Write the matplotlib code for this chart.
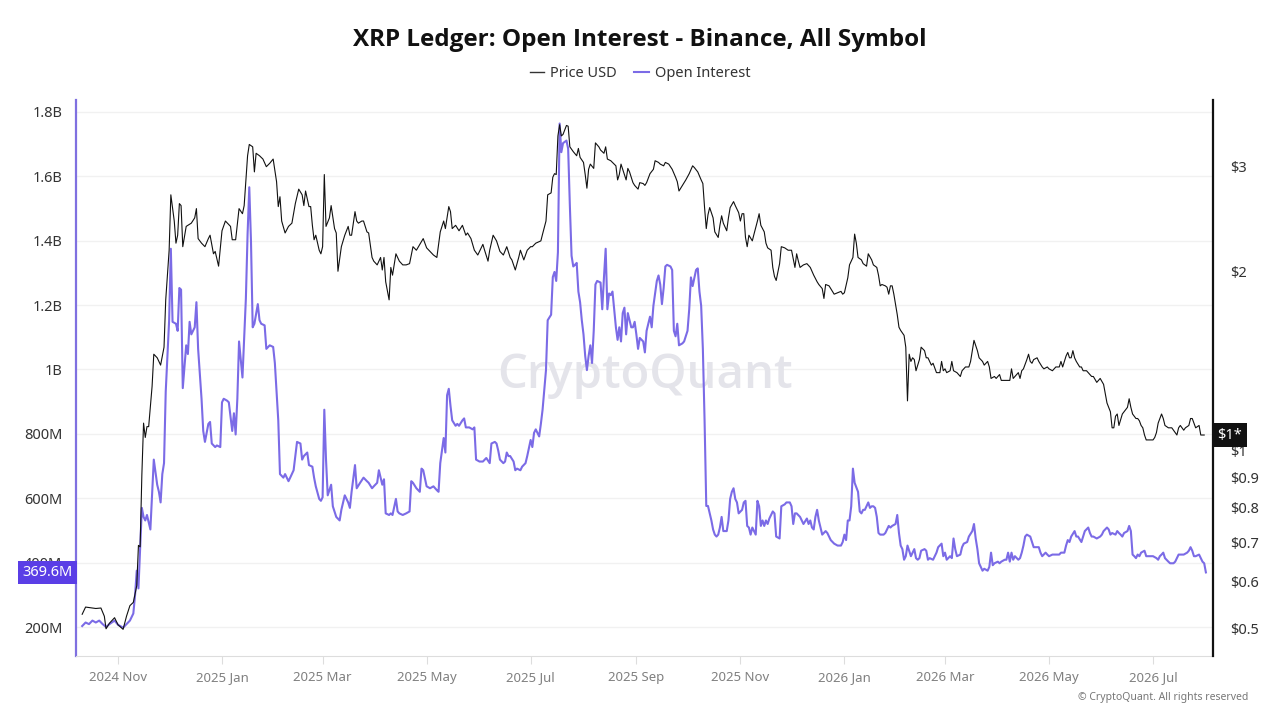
import matplotlib
matplotlib.use('Agg')
import matplotlib.pyplot as plt
import matplotlib.transforms as mtransforms
from matplotlib.lines import Line2D
import pandas as pd

plt.rcParams['font.family'] = ['Noto Sans', 'DejaVu Sans']

# day offsets are counted from 2024-11-01
base_date = '2024-11-01'

price_days = [
    -21, -19, -13, -10, -8, -7, -5, -2, 0, 3, 5, 7, 9, 11, 12, 13, 14, 15, 16, 17, 18, 20, 21, 23, 25,
    27, 28, 30, 31, 33, 34, 35, 36, 37, 38, 40, 41, 43, 45, 46, 47, 49, 51, 53, 54, 56, 57, 59, 61, 63,
    66, 67, 69, 71, 73, 74, 76, 77, 79, 80, 81, 83, 85, 87, 89, 91, 93, 94, 95, 96, 98, 100, 102, 104,
    106, 108, 109, 110, 112, 113, 114, 115, 116, 118, 119, 120, 121, 122, 124, 125, 127, 128, 129, 131,
    133, 135, 136, 137, 139, 140, 141, 143, 144, 146, 147, 149, 150,
    152, 154, 155, 156, 157, 159, 160, 161, 163, 165, 167, 169, 171, 173, 175, 177, 179, 181, 183, 185,
    187, 189, 191, 192, 194, 195, 196, 198, 200, 202, 204, 205, 207, 209, 211, 212, 214, 215, 217, 218,
    220, 222, 224, 226, 228, 230, 231, 233, 235, 236, 238, 240, 242, 243, 245, 248, 249, 251, 252, 254,
    255, 256, 257, 258, 259, 260, 261, 263, 264, 265, 267, 269, 270, 271, 273, 274, 275, 276, 277, 279,
    280, 282, 283, 285, 286, 287, 289, 290, 292, 293, 294, 295, 296, 298, 299, 300, 302, 303, 305, 306,
    308, 309, 310, 312, 314, 315, 317,
    318, 320, 321, 323, 325, 327, 328, 329, 331, 333, 335, 337, 338, 340, 342, 343, 344, 345, 346, 347,
    349, 350, 352, 353, 354, 355, 357, 358, 359, 361, 362, 364, 365, 366, 367, 368, 369, 370, 372, 373,
    375, 376, 377, 379, 380, 381, 383, 384, 385, 386, 388, 389, 391, 393, 395, 397, 398, 399, 400, 402,
    404, 406, 407, 408, 410, 411, 413, 414, 415, 417, 418, 420, 422, 424, 425, 426, 428, 429, 431, 432,
    433, 434, 436, 437, 439, 440, 442, 443, 445, 446, 447, 448, 450, 451, 452, 453, 454, 455, 457, 458,
    459, 461, 462, 463, 464, 465, 466, 467, 468, 470, 471, 473, 474, 475, 477, 478, 480, 482,
    483, 484, 485, 486, 488, 489, 490, 492, 494, 495, 497, 499, 500, 501, 502, 504, 505, 507, 508, 510,
    511, 512, 514, 515, 517, 518, 520, 521, 523, 524, 525, 527, 528, 529, 530, 531, 533, 534, 535, 536,
    537, 539, 540, 542, 543, 545, 546, 548, 550, 551, 552, 553, 554, 556, 557, 558, 559, 560, 561, 562,
    564, 565, 566, 568, 569, 571, 572, 574, 575, 576, 578, 580, 581, 582, 583, 584, 585, 586, 587, 589,
    590, 592, 593, 594, 595, 597, 598, 599, 600, 601, 602, 603, 604, 606, 607, 608, 609, 610, 612, 613,
    614, 616, 617, 618, 619, 621, 622, 623, 625, 626, 628, 629, 630, 631, 632, 634, 635, 636, 637,
]
price_usd = [
    0.529, 0.544, 0.541, 0.542, 0.525, 0.500, 0.511, 0.522, 0.508, 0.499, 0.525, 0.547, 0.554, 0.591,
    0.691, 0.687, 0.908, 1.11, 1.05, 1.095, 1.095, 1.28, 1.45, 1.43, 1.39, 1.49, 1.79, 2.17, 2.69, 2.43,
    2.23, 2.30, 2.60, 2.58, 2.20, 2.38, 2.39, 2.41, 2.46, 2.55, 2.27, 2.23, 2.20, 2.27, 2.30, 2.14, 2.16,
    2.04, 2.34, 2.43, 2.38, 2.26, 2.26, 2.55, 2.50, 2.58, 3.13, 3.27, 3.24, 2.94, 3.16, 3.13, 3.09, 3.00,
    3.04, 3.09, 2.83, 2.57, 2.67, 2.43, 2.32, 2.38, 2.41, 2.60, 2.75, 2.69, 2.58, 2.73, 2.57, 2.57, 2.39,
    2.26, 2.30, 2.17, 2.14, 2.20, 2.91, 2.38, 2.46, 2.58, 2.36, 2.32, 2.00, 2.20, 2.30, 2.38, 2.30, 2.30,
    2.52, 2.43, 2.41, 2.43, 2.43, 2.33, 2.32, 2.11, 2.08,
    2.05, 2.11, 2.01, 2.11, 1.92, 1.79, 2.03, 1.97, 2.14, 2.08, 2.05, 2.05, 2.06, 2.20, 2.17, 2.22, 2.27,
    2.19, 2.16, 2.13, 2.11, 2.33, 2.43, 2.36, 2.57, 2.52, 2.36, 2.39, 2.34, 2.39, 2.30, 2.32, 2.27, 2.17,
    2.13, 2.16, 2.22, 2.17, 2.08, 2.17, 2.30, 2.25, 2.16, 2.13, 2.20, 2.11, 2.09, 2.01, 2.11, 2.17, 2.09,
    2.17, 2.20, 2.20, 2.23, 2.25, 2.31, 2.43, 2.69, 2.71, 2.88, 2.92, 2.91, 3.38, 3.53, 3.38, 3.40, 3.52,
    3.51, 3.24, 3.18, 3.13, 3.22, 3.11, 3.05, 2.91, 2.76, 2.97, 3.03, 2.98, 3.29, 3.24, 3.20, 3.16, 3.24,
    3.09, 3.07, 3.05, 3.01, 2.85, 2.91, 3.03, 2.97, 2.85, 2.98, 2.94, 2.82, 2.79, 2.75, 2.82, 2.81, 2.79,
    2.82, 2.92, 2.97, 3.07, 3.05,
    3.03, 3.01, 3.05, 3.03, 2.97, 2.88, 2.83, 2.73, 2.79, 2.85, 2.92, 3.01, 2.99, 2.94, 2.85, 2.81, 2.56,
    2.36, 2.49, 2.56, 2.46, 2.33, 2.28, 2.39, 2.48, 2.41, 2.34, 2.46, 2.56, 2.62, 2.58, 2.51, 2.43, 2.50,
    2.50, 2.28, 2.20, 2.30, 2.25, 2.31, 2.43, 2.50, 2.39, 2.33, 2.23, 2.19, 2.17, 2.03, 1.96, 1.93, 2.06,
    2.20, 2.19, 2.17, 2.17, 2.03, 2.14, 2.08, 2.03, 2.05, 2.06, 2.03, 2.00, 1.97, 1.92, 1.90, 1.87, 1.80,
    1.90, 1.89, 1.87, 1.83, 1.84, 1.85, 1.83, 1.84, 1.95, 2.05, 2.11, 2.31, 2.23, 2.11, 2.09, 2.06, 2.04,
    2.14, 2.09, 2.05, 2.03, 1.97, 1.89, 1.90, 1.89, 1.88, 1.83, 1.89, 1.89, 1.83, 1.69, 1.61, 1.59, 1.56,
    1.49, 1.21, 1.45, 1.41, 1.43, 1.42, 1.36, 1.42, 1.49, 1.47, 1.43, 1.43, 1.39, 1.40, 1.35, 1.35,
    1.41, 1.36, 1.37, 1.35, 1.36, 1.41, 1.36, 1.35, 1.33, 1.36, 1.38, 1.38, 1.41, 1.47, 1.53, 1.47, 1.43,
    1.41, 1.39, 1.41, 1.38, 1.32, 1.33, 1.32, 1.34, 1.31, 1.31, 1.31, 1.31, 1.37, 1.32, 1.34, 1.35, 1.32,
    1.36, 1.37, 1.42, 1.45, 1.41, 1.40, 1.42, 1.43, 1.41, 1.38, 1.37, 1.38, 1.37, 1.36, 1.38, 1.38, 1.38,
    1.41, 1.38, 1.44, 1.46, 1.43, 1.43, 1.47, 1.43, 1.41, 1.38, 1.38, 1.36, 1.36, 1.35, 1.33, 1.33, 1.30,
    1.31, 1.32, 1.29, 1.20, 1.18, 1.16, 1.09, 1.09, 1.14, 1.15, 1.10, 1.15, 1.16, 1.18, 1.22, 1.18, 1.15,
    1.13, 1.13, 1.12, 1.10, 1.09, 1.06, 1.04, 1.04, 1.04, 1.04, 1.05, 1.07, 1.11, 1.15, 1.13, 1.10, 1.09,
    1.09, 1.09, 1.08, 1.06, 1.09, 1.10, 1.08, 1.09, 1.10, 1.13, 1.13, 1.11, 1.09, 1.10, 1.06, 1.06, 1.06,
]

oi_days = [
    -21, -19, -17, -15, -13, -11, -9, -7, -5, -2, 0, 3, 5, 7, 9, 10, 11, 12, 13, 14, 15, 16, 17, 19, 21,
    23, 24, 25, 26, 27, 28, 30, 31, 32, 34, 35, 36, 37, 38, 40, 41, 42, 43, 45, 46, 47, 49, 50, 51, 53,
    54, 55, 57, 58, 60, 61, 62, 64, 65, 67, 68, 69, 70, 71, 72, 73, 75, 76, 77, 78, 79, 80, 82, 83, 84,
    86, 87, 89, 91, 92, 94, 95, 97, 98, 100, 101, 103, 105, 107, 108, 109, 111, 112, 114, 115, 116, 118,
    119, 120, 121, 122, 123, 125, 126, 128, 130, 131, 133, 135, 136, 137, 139, 140, 142, 144, 146, 147,
    149, 150,
    152, 153, 155, 156, 157, 159, 160, 161, 163, 164, 165, 167, 169, 171, 172, 173, 175, 177, 178, 179,
    181, 183, 185, 187, 188, 189, 191, 192, 193, 194, 195, 196, 198, 199, 200, 202, 203, 204, 206, 208,
    209, 210, 212, 214, 216, 218, 219, 221, 222, 223, 224, 226, 227, 228, 229, 230, 232, 233, 234, 236,
    237, 239, 240, 242, 243, 244, 245, 247, 248, 249, 251, 252, 254, 255, 256, 257, 258, 259, 260, 261,
    263, 264, 265, 266, 267, 268, 269, 270, 271, 272, 273, 274, 275, 276, 277, 278, 279, 280, 281, 283,
    284, 285, 286, 287, 288, 289, 290, 291, 292, 293, 294, 295, 296, 297, 298, 299, 301, 302, 303, 304,
    305, 306, 308, 309, 310, 312, 313, 314, 316, 317,
    318, 319, 320, 321, 322, 324, 325, 326, 327, 328, 329, 331, 332, 334, 335, 336, 337, 339, 340, 341,
    342, 343, 344, 345, 346, 347, 348, 349, 350, 351, 352, 353, 354, 355, 357, 358, 359, 360, 361, 362,
    363, 364, 366, 367, 368, 369, 370, 371, 372, 374, 375, 376, 377, 378, 379, 380, 381, 382, 384, 385,
    386, 388, 389, 391, 392, 394, 395, 396, 397, 398, 400, 401, 402, 404, 405, 406, 407, 408, 409, 410,
    411, 412, 413, 415, 416, 418, 420, 422, 424, 425, 426, 427, 428, 429, 430, 431, 432, 434, 435, 436,
    437, 438, 440, 441, 442, 443, 444, 445, 446, 447, 449, 450, 452, 453, 454, 456, 457, 458, 459, 460,
    461, 462, 463, 464, 465, 466, 467, 468, 469, 470, 471, 473, 474, 475, 476, 478, 479, 480, 481,
    483, 484, 485, 486, 488, 489, 490, 491, 492, 494, 495, 496, 498, 499, 501, 502, 503, 504, 505, 507,
    508, 510, 511, 512, 513, 514, 516, 517, 518, 520, 521, 522, 523, 524, 525, 526, 528, 529, 530, 531,
    532, 533, 535, 536, 537, 539, 540, 541, 542, 544, 545, 546, 548, 549, 551, 552, 553, 555, 556, 557,
    558, 559, 561, 562, 563, 565, 566, 567, 569, 570, 571, 572, 574, 576, 577, 578, 580, 581, 582, 583,
    585, 586, 587, 588, 589, 590, 592, 593, 594, 595, 596, 597, 598, 599, 600, 602, 603, 604, 606, 607,
    609, 610, 611, 612, 613, 614, 616, 617, 619, 620, 621, 622, 624, 625, 627, 628, 629, 630, 631, 632,
    634, 635, 636, 637, 638,
]
oi_musd = [
    203, 214, 209, 220, 214, 220, 209, 200, 209, 220, 207, 198, 209, 220, 242, 298, 375, 320, 442, 570,
    542, 531, 548, 503, 720, 642, 620, 587, 675, 709, 931, 1153, 1375, 1148, 1142, 1120, 1253, 1248, 942,
    1075, 1048, 1148, 1109, 1131, 1209, 1064, 909, 809, 775, 831, 837, 770, 759, 764, 759, 898, 909, 903,
    898, 809, 864, 798, 909, 1087, 1031, 975, 1220, 1420, 1566, 1398, 1131, 1142, 1203, 1153, 1142, 1137,
    1064, 1075, 1070, 1020, 842, 675, 664, 675, 653, 664, 687, 775, 770, 720, 731, 742, 703, 698, 664,
    637, 598, 592, 603, 875, 720, 609, 642, 575, 542, 531, 564, 609, 587, 570, 620, 703, 631, 648, 664,
    653, 648, 631, 637,
    648, 687, 642, 659, 553, 548, 553, 548, 598, 559, 553, 548, 553, 559, 653, 648, 631, 620, 692, 687,
    637, 631, 637, 625, 620, 709, 787, 742, 920, 940, 887, 842, 825, 831, 825, 842, 848, 820, 820, 814,
    820, 720, 714, 714, 725, 709, 770, 775, 770, 748, 720, 709, 714, 742, 731, 731, 714, 687, 692, 687,
    698, 709, 731, 781, 759, 803, 814, 792, 831, 875, 998, 1153, 1170, 1287, 1303, 1275, 1364, 1764,
    1675, 1703, 1711, 1686, 1509, 1353, 1320, 1325, 1331, 1242, 1209, 1153, 1109, 1042, 998, 1042, 1075,
    1020, 1120, 1264, 1275, 1270, 1187, 1286, 1375, 1187, 1236, 1231, 1242, 1187, 1131, 1092, 1131, 1087,
    1175, 1192, 1109, 1175, 1131, 1131, 1148, 1109, 1064, 1098, 1087, 1053, 1120, 1164, 1131, 1198, 1275,
    1292,
    1264, 1203, 1253, 1320, 1325, 1320, 1309, 1120, 1103, 1142, 1075, 1081, 1087, 1120, 1187, 1286, 1259,
    1309, 1314, 1242, 1198, 1064, 842, 576, 576, 553, 531, 503, 487, 481, 487, 509, 542, 498, 498, 531,
    598, 620, 631, 598, 587, 553, 564, 587, 592, 514, 509, 487, 509, 487, 592, 575, 514, 531, 514, 531,
    520, 537, 559, 553, 481, 475, 575, 581, 587, 587, 575, 520, 553, 553, 542, 531, 520, 537, 520, 531,
    509, 503, 542, 564, 531, 509, 487, 498, 492, 470, 459, 453, 453, 464, 487, 470, 531, 531, 575, 692,
    648, 620, 559, 553, 564, 564, 587, 570, 575, 575, 570, 542, 492, 487, 487, 492, 514, 509, 514, 520,
    548, 492, 453, 442, 409, 420, 453, 437, 420, 431, 442, 414, 409, 414, 437, 442, 437, 409, 414, 409,
    420, 431, 448,
    459, 420, 431, 409, 420, 414, 475, 442, 420, 425, 448, 459, 464, 481, 498, 520, 475, 442, 398, 375,
    381, 375, 387, 431, 392, 398, 403, 398, 403, 409, 409, 431, 403, 431, 409, 420, 409, 414, 431, 453,
    481, 487, 481, 464, 448, 448, 448, 431, 420, 431, 425, 420, 425, 425, 425, 425, 431, 431, 453, 470,
    464, 481, 498, 481, 481, 464, 481, 498, 509, 492, 481, 481, 475, 481, 487, 498, 509, 503, 487, 492,
    487, 498, 492, 487, 481, 492, 498, 514, 498, 425, 420, 414, 425, 420, 431, 437, 420, 420, 420, 420,
    414, 409, 420, 425, 431, 414, 403, 398, 398, 403, 414, 425, 425, 425, 431, 437, 448, 437, 420, 420,
    425, 414, 403, 398, 369.6,
]

month_ticks = pd.date_range('2024-11-01', '2026-07-01', freq='2MS')

base = pd.Timestamp(base_date)
price_dates = base + pd.to_timedelta(price_days, unit='D')
oi_dates = base + pd.to_timedelta(oi_days, unit='D')

oi_color = '#7b6be6'
purple_box = '#5a3ee6'
title_font = ['Open Sans', 'Lato', 'DejaVu Sans']

fig = plt.figure(figsize=(12.8, 7.2), dpi=100)
ax = fig.add_axes([0.0594, 0.0889, 0.8883, 0.7722])
ax2 = ax.twinx()

# open interest (left axis)
ax.plot(oi_dates, oi_musd, color=oi_color, lw=1.5, zorder=3)
ax.set_ylim(110, 1837)
ax.set_yticks([200, 400, 600, 800, 1000, 1200, 1400, 1600, 1800])
ax.set_yticklabels(['200M', '400M', '600M', '800M', '1B', '1.2B', '1.4B', '1.6B', '1.8B'])
ax.grid(axis='y', color='#f1f1f1', lw=1)
ax.set_axisbelow(True)
ax.tick_params(axis='y', length=0, labelsize=10.5, labelcolor='#333333', pad=10)

ax.set_xlim(base + pd.Timedelta(days=-24.6), base + pd.Timedelta(days=642.2))
ax.set_xticks(month_ticks)
ax.set_xticklabels([d.strftime('%Y %b') for d in month_ticks])
ax.tick_params(axis='x', length=6, color='#dddddd', labelsize=9.5, labelcolor='#808080', pad=5)

# price (right axis, log)
ax2.plot(price_dates, price_usd, color='#111111', lw=0.8, zorder=4)
ax2.set_yscale('log')
ax2.set_ylim(0.450, 3.885)
price_ticks = [0.5, 0.6, 0.7, 0.8, 0.9, 1, 2, 3]
ax2.set_yticks(price_ticks)
ax2.set_yticklabels(['$0.5', '$0.6', '$0.7', '$0.8', '$0.9', '$1', '$2', '$3'])
ax2.minorticks_off()
ax2.tick_params(axis='y', length=0, labelsize=10.5, labelcolor='#333333', pad=12)

for a in (ax, ax2):
    a.spines['top'].set_visible(False)
ax.spines['left'].set_color('#7f70e0')
ax.spines['left'].set_linewidth(1.6)
ax.spines['right'].set_visible(False)
ax2.spines['left'].set_visible(False)
ax2.spines['right'].set_color('#111111')
ax2.spines['right'].set_linewidth(1.6)
ax.spines['bottom'].set_color('#dddddd')
ax2.spines['bottom'].set_visible(False)

# watermark
ax.text(0.5, 0.505, 'CryptoQuant', transform=ax.transAxes, ha='center', va='center',
        fontsize=34, color='#e4e4ea', fontweight='semibold', family=title_font, zorder=1)

# last value labels
trans_l = mtransforms.blended_transform_factory(ax.transAxes, ax.transData)
ax.text(-0.003, oi_musd[-1], '369.6M', transform=trans_l, ha='right', va='center',
        fontsize=10.5, color='white', zorder=10, clip_on=False,
        bbox=dict(boxstyle='square,pad=0.3', fc=purple_box, ec='none'))
trans_r = mtransforms.blended_transform_factory(ax2.transAxes, ax2.transData)
ax2.text(1.004, price_usd[-1], '$1*', transform=trans_r, ha='left', va='center',
         fontsize=10.5, color='white', zorder=10, clip_on=False,
         bbox=dict(boxstyle='square,pad=0.3', fc='#111111', ec='none'))

fig.text(0.5, 0.945, 'XRP Ledger: Open Interest - Binance, All Symbol', ha='center', va='center',
         fontsize=17.5, fontweight='bold', family=title_font, color='#111111')

handles = [Line2D([], [], color='#333333', lw=1),
           Line2D([], [], color=oi_color, lw=1.5)]
fig.legend(handles, ['Price USD', 'Open Interest'], loc='center', bbox_to_anchor=(0.5, 0.898),
           ncol=2, frameon=False, fontsize=10.5, handlelength=1.0, handletextpad=0.4,
           columnspacing=1.2, labelcolor='#333333')

fig.text(0.975, 0.031, '\u00a9 CryptoQuant. All rights reserved', ha='right', va='center',
         fontsize=7.5, color='#777777')

fig.savefig('out.png', dpi=100)
